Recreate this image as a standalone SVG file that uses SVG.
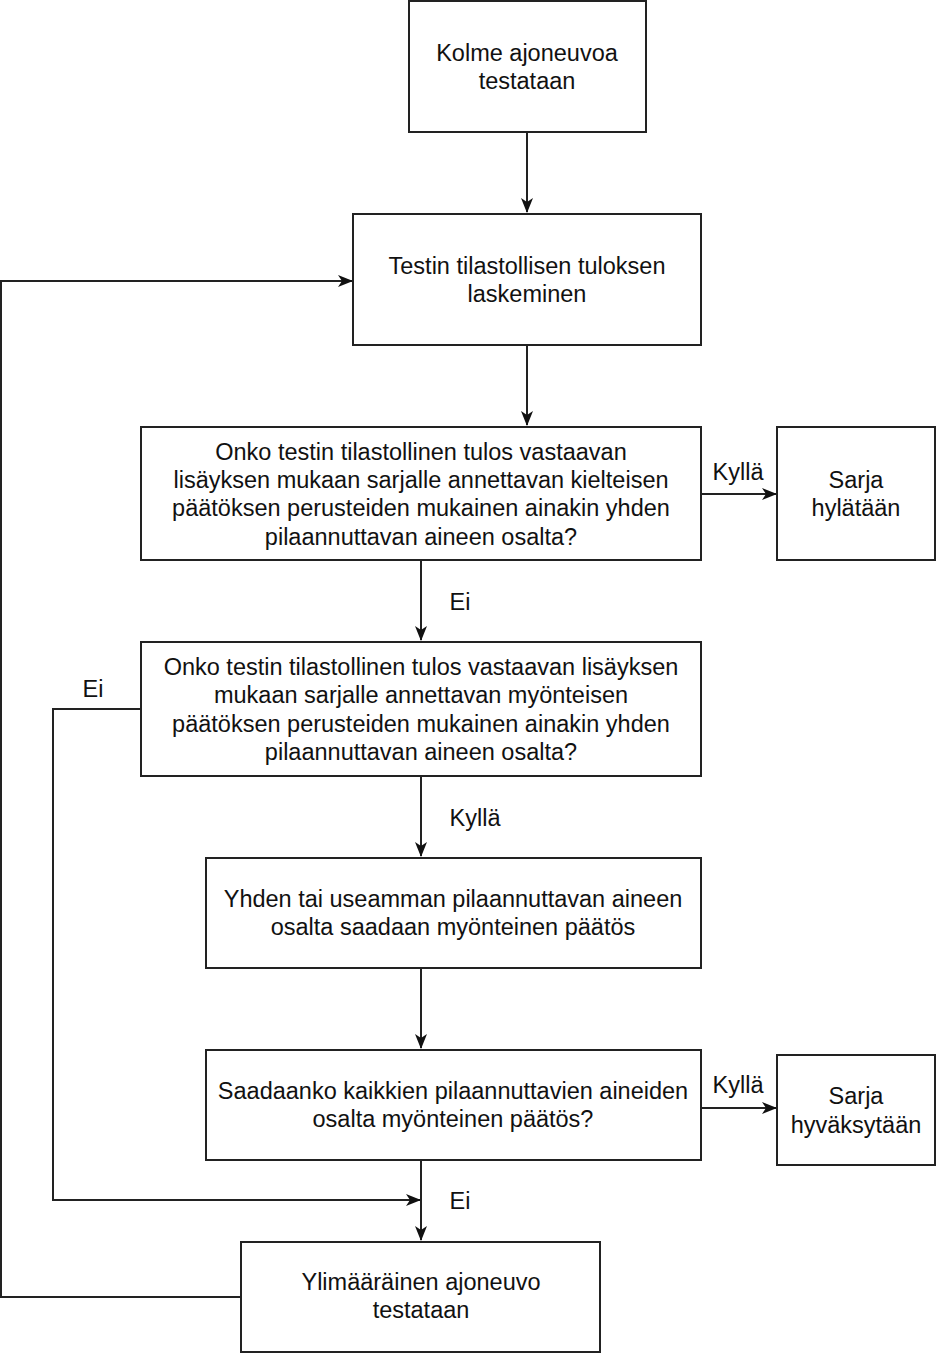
<svg xmlns="http://www.w3.org/2000/svg" width="936" height="1353" viewBox="0 0 936 1353">
<style>
.box{fill:#fff;stroke:#222;stroke-width:2}
.ln{fill:none;stroke:#222;stroke-width:2}
text{font-family:"Liberation Sans",Arial,sans-serif;font-size:23.5px;fill:#111;text-anchor:middle}
</style>
<defs>
<marker id="ah" markerWidth="15" markerHeight="12" refX="14" refY="6" orient="auto" markerUnits="userSpaceOnUse">
<path d="M0,0 L15,6 L0,12 L4,6 Z" fill="#111"/>
</marker>
</defs>
<rect width="936" height="1353" fill="#fff"/>
<g id="connectors">
<path class="ln" d="M527,132 V212" marker-end="url(#ah)"/>
<path class="ln" d="M527,345 V425" marker-end="url(#ah)"/>
<path class="ln" d="M701,494 H776" marker-end="url(#ah)"/>
<path class="ln" d="M421,560 V640" marker-end="url(#ah)"/>
<path class="ln" d="M141,709 H53 V1200 H420" marker-end="url(#ah)"/>
<path class="ln" d="M421,776 V856" marker-end="url(#ah)"/>
<path class="ln" d="M421,968 V1048" marker-end="url(#ah)"/>
<path class="ln" d="M701,1108 H776" marker-end="url(#ah)"/>
<path class="ln" d="M421,1160 V1240" marker-end="url(#ah)"/>
<path class="ln" d="M241,1297 H1 V281 H352" marker-end="url(#ah)"/>
<text x="738" y="480">Kyllä</text>
<text x="460" y="610">Ei</text>
<text x="93" y="697">Ei</text>
<text x="475" y="826">Kyllä</text>
<text x="738" y="1093">Kyllä</text>
<text x="460" y="1209">Ei</text>
</g>
<g id="n1"><rect class="box" x="409" y="1" width="237" height="131"/>
<text x="527" y="61">Kolme ajoneuvoa</text><text x="527" y="89">testataan</text></g>
<g id="n2"><rect class="box" x="353" y="214" width="348" height="131"/>
<text x="527" y="274">Testin tilastollisen tuloksen</text><text x="527" y="302">laskeminen</text></g>
<g id="n3"><rect class="box" x="141" y="427" width="560" height="133"/>
<text x="421" y="460">Onko testin tilastollinen tulos vastaavan</text>
<text x="421" y="488">lisäyksen mukaan sarjalle annettavan kielteisen</text>
<text x="421" y="516">päätöksen perusteiden mukainen ainakin yhden</text>
<text x="421" y="545">pilaannuttavan aineen osalta?</text></g>
<g id="n4"><rect class="box" x="777" y="427" width="158" height="133"/>
<text x="856" y="488">Sarja</text><text x="856" y="516">hylätään</text></g>
<g id="n5"><rect class="box" x="141" y="642" width="560" height="134"/>
<text x="421" y="675">Onko testin tilastollinen tulos vastaavan lisäyksen</text>
<text x="421" y="703">mukaan sarjalle annettavan myönteisen</text>
<text x="421" y="732">päätöksen perusteiden mukainen ainakin yhden</text>
<text x="421" y="760">pilaannuttavan aineen osalta?</text></g>
<g id="n6"><rect class="box" x="206" y="858" width="495" height="110"/>
<text x="453" y="907">Yhden tai useamman pilaannuttavan aineen</text>
<text x="453" y="935">osalta saadaan myönteinen päätös</text></g>
<g id="n7"><rect class="box" x="206" y="1050" width="495" height="110"/>
<text x="453" y="1099">Saadaanko kaikkien pilaannuttavien aineiden</text>
<text x="453" y="1127">osalta myönteinen päätös?</text></g>
<g id="n8"><rect class="box" x="777" y="1055" width="158" height="110"/>
<text x="856" y="1104">Sarja</text><text x="856" y="1133">hyväksytään</text></g>
<g id="n9"><rect class="box" x="241" y="1242" width="359" height="110"/>
<text x="421" y="1290">Ylimääräinen ajoneuvo</text><text x="421" y="1318">testataan</text></g>
</svg>
